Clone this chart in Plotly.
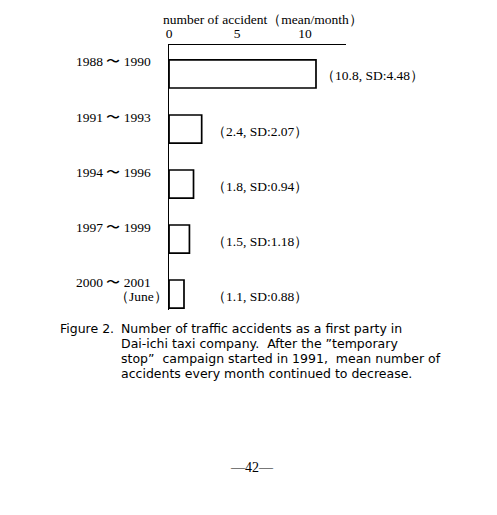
import plotly.graph_objects as go

# data
periods = ["1988 〜 1990", "1991 〜 1993", "1994 〜 1996", "1997 〜 1999", "2000 〜 2001"]
period_notes = ["", "", "", "", "（June）"]
mean_accidents = [10.8, 2.4, 1.8, 1.5, 1.1]
sd_accidents = [4.48, 2.07, 0.94, 1.18, 0.88]
x_ticks = [0, 5, 10]

caption_head = "Figure 2."
caption_lines = [
    "Number of traffic accidents as a first party in",
    "Dai-ichi taxi company.  After the \u201dtemporary",
    "stop\u201d  campaign started in 1991,  mean number of",
    "accidents every month continued to decrease.",
]
page_number = "\u201442\u2014"

# the page body adds an 8px margin, so the figure is a bit smaller than the window
OFF = 8
W, H = 497 - OFF, 515 - OFF
SERIF = "Liberation Serif, Times New Roman, serif"
SANS = "DejaVu Sans, Verdana, sans-serif"


def px(x):
    return (x - OFF) / W


def py(y):
    return 1 - (y - OFF) / H


fig = go.Figure()
fig.add_trace(go.Bar(
    x=mean_accidents, y=periods, orientation="h", width=0.51,
    marker=dict(color="white", line=dict(color="black", width=1.7)),
    hoverinfo="skip", showlegend=False,
))

fig.update_layout(
    width=W, height=H, margin=dict(l=0, r=0, t=0, b=0),
    paper_bgcolor="white", plot_bgcolor="white",
    font=dict(family=SERIF, size=13.5, color="black"),
    xaxis=dict(
        domain=[px(167), px(345)], range=[0, 13], side="top",
        tickvals=x_ticks, ticktext=[str(t) for t in x_ticks],
        showline=True, linecolor="black", linewidth=1.3,
        showgrid=False, zeroline=False, ticks="", ticklabelstandoff=0,
        tickfont=dict(family=SERIF, size=13.5),
    ),
    yaxis=dict(
        domain=[py(310), py(45)], type="category",
        categoryorder="array", categoryarray=periods,
        range=[4.29, -0.527], showticklabels=False,
        showline=True, linecolor="black", linewidth=1.3,
        showgrid=False, zeroline=False, ticks="",
    ),
)

# axis title
fig.add_annotation(text="number of accident（mean/month）", xref="paper", yref="paper",
                   x=px(262), y=py(19), showarrow=False, xanchor="center", yanchor="middle",
                   font=dict(family=SERIF, size=13.5))

# period labels, value labels
for p, note, m, sd in zip(periods, period_notes, mean_accidents, sd_accidents):
    fig.add_annotation(text=p, xref="paper", yref="y", x=px(151), y=p, yshift=12,
                       showarrow=False, xanchor="right", yanchor="middle")
    if note:
        fig.add_annotation(text=note, xref="paper", yref="y", x=px(168), y=p, yshift=-2,
                           showarrow=False, xanchor="right", yanchor="middle")
    fig.add_annotation(text=f"（{m}, SD:{sd:.2f}）", xref="x", yref="y",
                       x=max(m + 0.2, 3.0), y=p, yshift=-2,
                       showarrow=False, xanchor="left", yanchor="middle")

# caption
fig.add_annotation(text=caption_head, xref="paper", yref="paper", x=px(55), y=py(328),
                   showarrow=False, xanchor="left", yanchor="middle",
                   font=dict(family=SANS, size=12.5))
for i, line in enumerate(caption_lines):
    fig.add_annotation(text=line, xref="paper", yref="paper", x=px(117), y=py(328 + 15 * i),
                       showarrow=False, xanchor="left", yanchor="middle",
                       font=dict(family=SANS, size=12.5))

fig.add_annotation(text=page_number, xref="paper", yref="paper", x=px(250), y=py(467),
                   showarrow=False, xanchor="center", yanchor="middle",
                   font=dict(family=SERIF, size=14))

fig.write_html("out.html")
